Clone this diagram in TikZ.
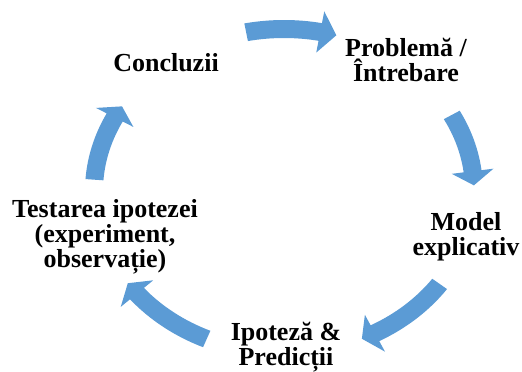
\documentclass[tikz,border=0pt]{standalone}
\usepackage{fontspec}
\setmainfont{Liberation Serif}
\definecolor{arrowblue}{RGB}{91,155,213}
\begin{document}
\begin{tikzpicture}[x=1pt,y=1pt,
  lbl/.style={font=\bfseries\fontsize{26}{25}\selectfont, align=center,
              inner sep=0pt, anchor=base},
  cyc/.style={fill=arrowblue, draw=none}]
\useasboundingbox (0,0) rectangle (522,372);
\coordinate (O) at (284,181);

% curved block arrow on the cycle ellipse: #1 tail angle, #2 head base angle, #3 tip angle
\newcommand\cyclearrow[3]{%
  \fill[cyc] ([shift={(#1:199pt and 171pt)}]O)
      arc[start angle=#1, end angle=#2, x radius=199pt, y radius=171pt]
   -- ([shift={(#2:211pt and 183pt)}]O)
   -- ([shift={(#3:190pt and 162pt)}]O)
   -- ([shift={(#2:169pt and 141pt)}]O)
   -- ([shift={(#2:181pt and 153pt)}]O)
      arc[start angle=#2, end angle=#1, x radius=181pt, y radius=153pt]
   -- cycle;}

% labels are placed by the baseline of their last line
\node[lbl] (concl) at (166,300) {Concluzii};
\node[lbl] (probl) at (406,290) {Problemă /\\Întrebare};
\node[lbl] (model) at (466,116) {Model\\explicativ};
\node[lbl] (ipot)  at (286,6)   {Ipoteză \&\\Predicții};
\node[lbl] (test)  at (105,104) {Testarea ipotezei\\(experiment,\\observație)};

\cyclearrow{101.5}{79}{74}
\cyclearrow{28}{7}{2}
\cyclearrow{-35}{-61.4}{-65.8}
\cyclearrow{-114}{-140.7}{-145.3}
\cyclearrow{176}{153}{148.5}
\end{tikzpicture}
\end{document}
